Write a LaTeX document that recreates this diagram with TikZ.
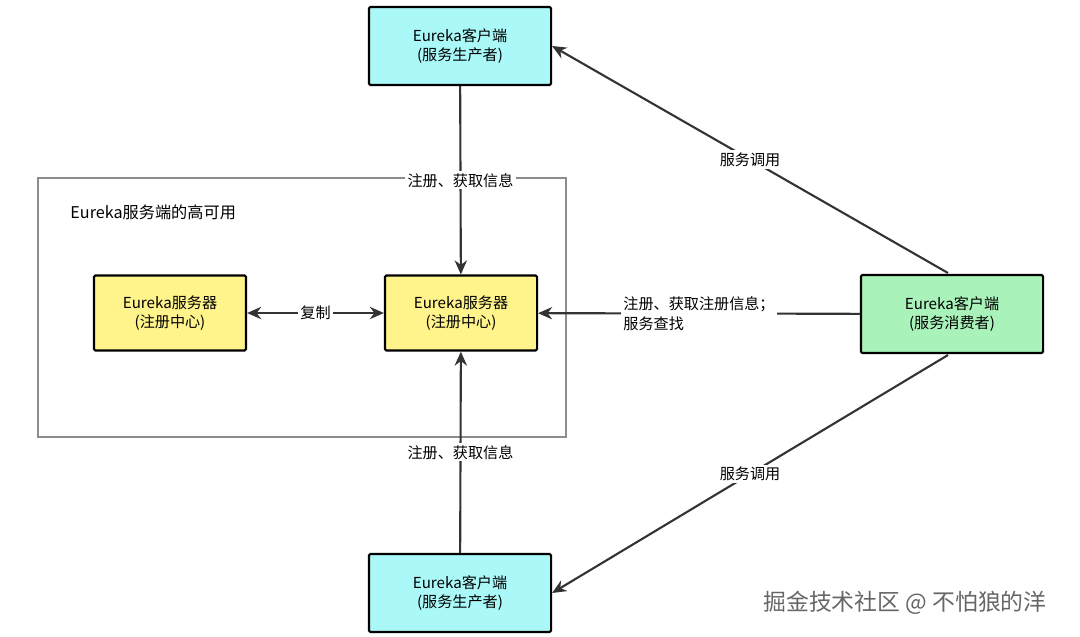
\documentclass[tikz,border=0pt]{standalone}
\usepackage{fontspec}
\setmainfont{Noto Sans CJK SC}
\usetikzlibrary{arrows.meta}
\definecolor{prodc}{HTML}{AAF8F8}
\definecolor{consc}{HTML}{A9F2B9}
\definecolor{servc}{HTML}{FFF38C}
\tikzset{
  box/.style={draw, line width=0.6pt, rounded corners=0.4pt, minimum width=1.82cm, minimum height=0.78cm, align=center, font=\fontsize{4.3}{5.6}\selectfont},
  srv/.style={box, fill=servc, minimum width=1.52cm, minimum height=0.75cm},
  arr/.style={-{Stealth[length=4pt,width=3.5pt]}, line width=0.6pt, draw=black!80},
  lbl/.style={fill=white, inner sep=0.6pt, align=left, font=\fontsize{4.3}{5.6}\selectfont}
}
\begin{document}
\begin{tikzpicture}[x=0.01cm,y=-0.01cm]
\useasboundingbox (0,0) rectangle (1080,636);

\draw[black!45, line width=0.3pt] (38,178) rectangle (566,437);
\node[anchor=west, font=\fontsize{4.6}{5.6}\selectfont] (title) at (58,212) {Eureka服务端的高可用};

\node[box, fill=prodc] (p1) at (460,46) {Eureka客户端\\(服务生产者)};
\node[box, fill=prodc] (p2) at (460,593) {Eureka客户端\\(服务生产者)};
\node[box, fill=consc] (c1) at (952,314) {Eureka客户端\\(服务消费者)};
\node[srv] (s1) at (461,313) {Eureka服务器\\(注册中心)};
\node[srv] (s2) at (170,313) {Eureka服务器\\(注册中心)};

\coordinate (ct) at (948,273);
\coordinate (cb) at (948,355);

\draw[arr] (p1) -- node[lbl, pos=0.5] {注册、获取信息} (s1);
\draw[arr] (p2) -- node[lbl, pos=0.5] {注册、获取信息} (s1);
\draw[arr] (c1) -- node[lbl, pos=0.5] {注册、获取注册信息；\\服务查找} (s1);
\draw[arr, {Stealth[length=4pt,width=3.5pt]}-{Stealth[length=4pt,width=3.5pt]}] (s2) -- node[lbl] {复制} (s1);
\draw[arr] (ct) -- node[lbl, pos=0.5] {服务调用} (p1.east);
\draw[arr] (cb) -- node[lbl, pos=0.5] {服务调用} (p2.east);

\node[text=black!60, font=\fontsize{6.5}{8}\selectfont] (wm) at (905,603) {掘金技术社区 @ 不怕狼的洋};
\end{tikzpicture}
\end{document}
